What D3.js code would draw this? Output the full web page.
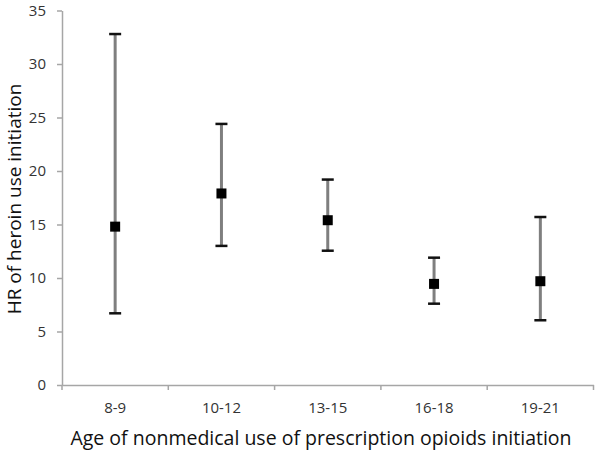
<!DOCTYPE html>
<html><head><meta charset="utf-8">
<script src="https://cdn.jsdelivr.net/npm/d3@7"></script>
<style>body{margin:0;background:#fff}svg text{font-family:"Open Sans","DejaVu Sans",sans-serif}</style>
</head><body>
<svg id="c" width="600" height="453"></svg>
<script>
const categories = ["8-9","10-12","13-15","16-18","19-21"];
const hr = [14.8, 17.9, 15.4, 9.45, 9.7];
const lower = [6.7, 13.0, 12.55, 7.6, 6.05];
const upper = [32.8, 24.4, 19.2, 11.9, 15.7];
const yTicks = [0,5,10,15,20,25,30,35];

const svg = d3.select("#c");
const m = {l:62, r:6.5, t:10.5, b:68};
const W = 600, H = 453;
const x = d3.scaleBand().domain(categories).range([m.l, W-m.r]);
const y = d3.scaleLinear().domain([0,35]).range([H-m.b, m.t]);

const xa = svg.append("g").attr("transform",`translate(0,${H-m.b})`)
  .call(d3.axisBottom(x).tickSize(0).tickSizeOuter(0).tickPadding(17));
xa.select(".domain").attr("stroke","#a6a6a6").attr("stroke-width",1.5);
xa.selectAll("text").attr("font-size",15).attr("fill","#333");
const bounds = categories.map(c=>x(c)).concat([x(categories[categories.length-1])+x.bandwidth()]);
xa.selectAll(".bt").data(bounds).enter().append("line")
  .attr("x1",d=>d).attr("x2",d=>d).attr("y1",0).attr("y2",5)
  .attr("stroke","#a6a6a6").attr("stroke-width",1.5);

const ya = svg.append("g").attr("transform",`translate(${m.l},0)`)
  .call(d3.axisLeft(y).tickValues(yTicks).tickSize(5).tickSizeOuter(0).tickPadding(11));
ya.select(".domain").attr("stroke","#a6a6a6").attr("stroke-width",1.5);
ya.selectAll(".tick line").attr("stroke","#a6a6a6").attr("stroke-width",1.5);
ya.selectAll("text").attr("font-size",15).attr("fill","#333");

const cx = c => x(c) + x.bandwidth()/2;
const g = svg.append("g");
categories.forEach((c,i)=>{
  g.append("line").attr("x1",cx(c)).attr("x2",cx(c)).attr("y1",y(upper[i])).attr("y2",y(lower[i]))
    .attr("stroke","#7f7f7f").attr("stroke-width",3);
  [upper[i], lower[i]].forEach(v=>{
    g.append("line").attr("x1",cx(c)-6).attr("x2",cx(c)+6).attr("y1",y(v)).attr("y2",y(v))
      .attr("stroke","#111").attr("stroke-width",2.5);
  });
  g.append("rect").attr("x",cx(c)-5).attr("y",y(hr[i])-5).attr("width",10).attr("height",10).attr("fill","#000");
});

svg.append("text").attr("x",321).attr("y",445).attr("text-anchor","middle")
  .attr("font-size",19.5).attr("fill","#111").text("Age of nonmedical use of prescription opioids initiation");
svg.append("text").attr("transform",`translate(21,199) rotate(-90)`).attr("text-anchor","middle")
  .attr("font-size",19).attr("fill","#111").text("HR of heroin use initiation");
</script>
</body></html>
